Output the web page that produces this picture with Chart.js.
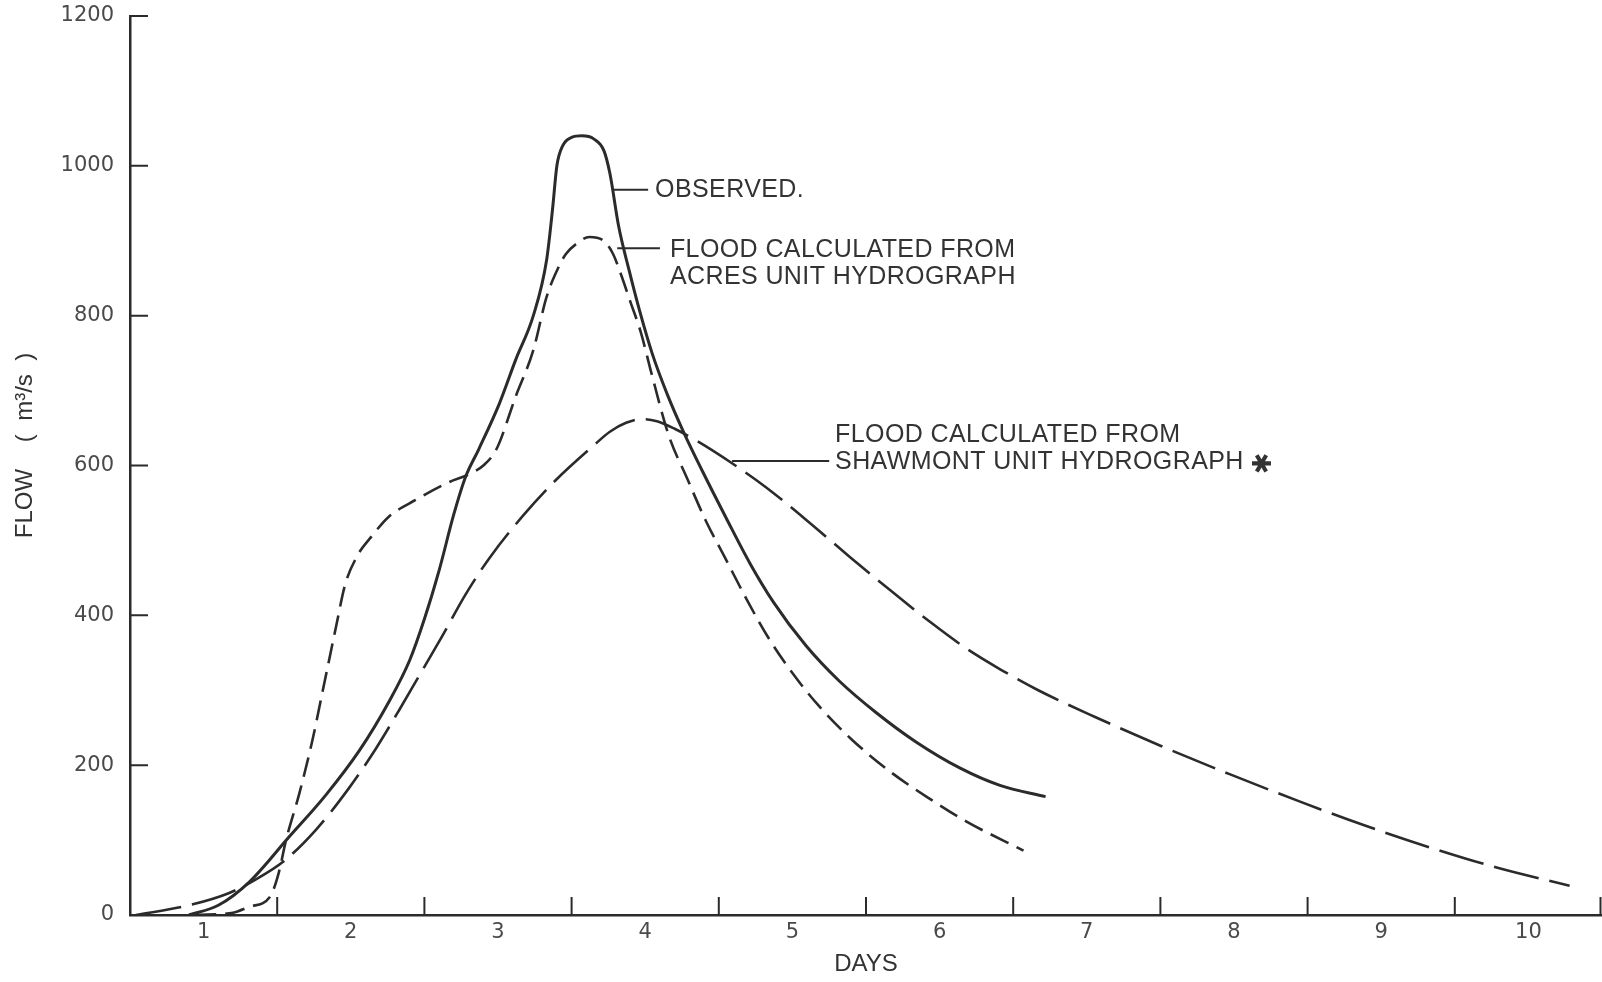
<!DOCTYPE html>
<html>
<head>
<meta charset="utf-8">
<title>Flood hydrographs</title>
<script src="https://cdn.jsdelivr.net/npm/chart.js@4.4.1/dist/chart.umd.min.js"></script>
<style>
  html, body { margin: 0; padding: 0; background: #fff; }
  #wrap { width: 1602px; height: 982px; }
</style>
</head>
<body>
<div id="wrap"><canvas id="flowChart" width="1602" height="982"></canvas></div>
<script>
// x axis: day boundaries at integers, day labels sit in the middle of each day
const dayLabels = ['1', '2', '3', '4', '5', '6', '7', '8', '9', '10'];
const flowTicks = [0, 200, 400, 600, 800, 1000, 1200];

// observed hydrograph (solid)
const obsDays = [0.40, 0.60, 0.81, 1.08, 1.33, 1.56, 1.76, 1.90, 2.00, 2.10, 2.20, 2.28, 2.37, 2.51, 2.62, 2.74, 2.83, 2.87, 2.90, 2.94, 3.00, 3.07, 3.15, 3.22, 3.26, 3.32, 3.39, 3.46, 3.55, 3.65, 3.76, 3.89, 4.05, 4.21, 4.37, 4.59, 4.82, 5.07, 5.34, 5.64, 5.91, 6.22];
const obsFlow = [0, 13, 44, 104, 160, 220, 285, 340, 395, 460, 535, 585, 622, 683, 741, 800, 874, 941, 1000, 1027, 1038, 1040, 1036, 1020, 990, 919, 861, 808, 748, 695, 645, 592, 530, 470, 418, 360, 312, 270, 231, 196, 173, 158];

// flood calculated from Acres unit hydrograph (short dash)
const acresDays = [0.45, 0.70, 0.81, 0.95, 1.01, 1.06, 1.15, 1.24, 1.31, 1.40, 1.46, 1.54, 1.64, 1.76, 1.94, 2.17, 2.30, 2.40, 2.49, 2.62, 2.74, 2.83, 2.90, 2.96, 3.04, 3.12, 3.21, 3.28, 3.33, 3.40, 3.47, 3.54, 3.66, 3.78, 3.91, 4.05, 4.19, 4.34, 4.50, 4.68, 4.91, 5.18, 5.45, 5.68, 6.07];
const acresFlow = [0, 3, 11, 24, 56, 100, 162, 234, 300, 385, 440, 478, 505, 532, 554, 578, 588, 600, 622, 692, 754, 825, 860, 882, 897, 905, 901, 883, 858, 818, 778, 725, 640, 585, 527, 474, 421, 369, 323, 279, 233, 189, 153, 125, 86];

// flood calculated from Shawmont unit hydrograph (long dash)
const shawDays = [0.04, 0.38, 0.67, 0.85, 1.04, 1.26, 1.49, 1.67, 1.83, 1.99, 2.12, 2.28, 2.44, 2.67, 2.89, 3.14, 3.26, 3.37, 3.48, 3.58, 3.70, 3.85, 4.09, 4.32, 4.59, 4.89, 5.18, 5.45, 5.68, 5.92, 6.17, 6.56, 7.00, 7.47, 7.94, 8.38, 8.85, 9.29, 9.78];
const shawFlow = [0, 12, 29, 47, 71, 113, 170, 222, 274, 328, 372, 428, 476, 533, 580, 625, 645, 657, 662, 659, 649, 633, 603, 571, 528, 478, 431, 389, 356, 327, 300, 264, 226, 188, 152, 120, 89, 63, 39];

const ink = '#2b2b2b';
const labelInk = '#4a4a4a';
const noteFont = '25px "Liberation Sans", Arial, sans-serif';

function toPoints(xs, ys) {
    return xs.map((d, i) => ({ x: d, y: ys[i] }));
}

function curve(xs, ys, dash, width) {
    return {
        data: toPoints(xs, ys),
        borderColor: ink,
        borderWidth: width,
        borderDash: dash,
        pointRadius: 0,
        fill: false,
        cubicInterpolationMode: 'monotone',
        borderCapStyle: 'butt'
    };
}

// tick marks point into the plot, like the drawing
const inwardTicks = {
    id: 'inwardTicks',
    afterDraw(chart) {
        const { ctx, chartArea, scales: { x, y } } = chart;
        ctx.save();
        ctx.strokeStyle = ink;
        ctx.lineWidth = 2;
        ctx.beginPath();
        for (let d = 1; d <= dayLabels.length; d++) {
            const px = Math.min(x.getPixelForValue(d), chart.width - 1.5);
            ctx.moveTo(px, chartArea.bottom);
            ctx.lineTo(px, chartArea.bottom - 18);
        }
        flowTicks.forEach(v => {
            const py = y.getPixelForValue(v);
            ctx.moveTo(chartArea.left, py);
            ctx.lineTo(chartArea.left + 18, py);
        });
        ctx.stroke();
        ctx.restore();
    }
};

// labels with leader lines, placed in data units
const curveNotes = {
    id: 'curveNotes',
    afterDraw(chart) {
        const { ctx, scales: { x, y } } = chart;
        const notes = [
            { lines: ['OBSERVED.'], lead: [3.28, 3.52, 968], at: [3.567, 967] },
            { lines: ['FLOOD CALCULATED FROM', 'ACRES UNIT HYDROGRAPH'], lead: [3.31, 3.60, 890], at: [3.668, 887] },
            { lines: ['FLOOD CALCULATED FROM', 'SHAWMONT UNIT HYDROGRAPH'], lead: [4.09, 4.75, 606], at: [4.79, 640], star: true }
        ];
        ctx.save();
        ctx.strokeStyle = ink;
        ctx.fillStyle = '#333';
        ctx.lineWidth = 2;
        ctx.font = noteFont;
        ctx.letterSpacing = '0.4px';
        ctx.textBaseline = 'middle';
        notes.forEach(n => {
            const ly = y.getPixelForValue(n.lead[2]);
            ctx.beginPath();
            ctx.moveTo(x.getPixelForValue(n.lead[0]), ly);
            ctx.lineTo(x.getPixelForValue(n.lead[1]), ly);
            ctx.stroke();
            const tx = x.getPixelForValue(n.at[0]);
            const ty = y.getPixelForValue(n.at[1]);
            n.lines.forEach((t, i) => {
                ctx.fillText(t, tx, ty + i * 27);
                if (n.star && i === n.lines.length - 1) {
                    const w = ctx.measureText(t).width;
                    ctx.save();
                    ctx.translate(tx + w + 15, ty + i * 27 + 1);
                    ctx.rotate(Math.PI / 2);
                    ctx.font = '26px "DejaVu Sans", sans-serif';
                    ctx.textAlign = 'center';
                    ctx.fillText('\u2731', 0, 0);
                    ctx.restore();
                }
            });
        });
        ctx.restore();
    }
};

new Chart(document.getElementById('flowChart'), {
    type: 'line',
    data: {
        datasets: [
            curve(obsDays, obsFlow, [], 3),
            curve(acresDays, acresFlow, [20, 9], 2.6),
            curve(shawDays, shawFlow, [46, 11], 2.6)
        ]
    },
    options: {
        responsive: false,
        animation: false,
        layout: { padding: { top: 16, right: 0, bottom: 0, left: 0 } },
        plugins: {
            legend: { display: false },
            tooltip: { enabled: false }
        },
        scales: {
            x: {
                type: 'linear',
                min: 0,
                max: 10,
                afterBuildTicks: scale => {
                    scale.ticks = dayLabels.map((l, i) => ({ value: i + 0.5 }));
                },
                afterFit: scale => {
                    scale.height = 67;
                    scale.paddingLeft = 0;
                    scale.paddingRight = 0;
                },
                grid: { display: false, drawTicks: false },
                border: { display: true, color: ink, width: 2.5 },
                ticks: {
                    autoSkip: false,
                    maxRotation: 0,
                    padding: 5,
                    color: labelInk,
                    font: { family: '"DejaVu Sans", sans-serif', size: 21 },
                    callback: (v, i) => dayLabels[i]
                },
                title: {
                    display: true,
                    text: 'DAYS',
                    color: '#333',
                    font: { family: '"Liberation Sans", Arial, sans-serif', size: 24 },
                    padding: { top: 0, bottom: 3 }
                }
            },
            y: {
                min: 0,
                max: 1200,
                afterBuildTicks: scale => {
                    scale.ticks = flowTicks.map(v => ({ value: v }));
                },
                afterFit: scale => {
                    scale.width = 130;
                    scale.paddingTop = 0;
                    scale.paddingBottom = 0;
                },
                grid: { display: false, drawTicks: false },
                border: { display: true, color: ink, width: 2.5 },
                ticks: {
                    padding: 16,
                    color: labelInk,
                    font: { family: '"DejaVu Sans", sans-serif', size: 21 },
                    callback: v => String(v)
                },
                title: {
                    display: true,
                    text: '      FLOW    (  m\u00b3/s  )',
                    color: '#333',
                    font: { family: '"Liberation Sans", Arial, sans-serif', size: 24 },
                    padding: { top: 11, bottom: 0 }
                }
            }
        }
    },
    plugins: [inwardTicks, curveNotes]
});
</script>
</body>
</html>
